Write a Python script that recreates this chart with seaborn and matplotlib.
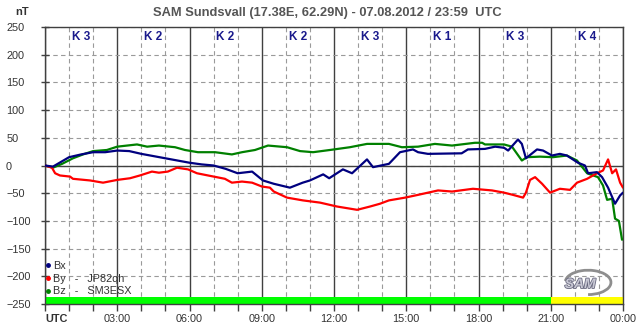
import numpy as np
import pandas as pd
import matplotlib
matplotlib.use("Agg")
import matplotlib.pyplot as plt
import matplotlib.patheffects as pe
from matplotlib.lines import Line2D
from matplotlib.patches import Arc
from matplotlib.ticker import MultipleLocator
import seaborn as sns

# hours UTC and field values in nT
bx_t = [0, 0.33, 1.0, 1.5, 2.0, 2.5, 3.0, 3.5, 4.0, 4.5, 5.0, 5.5, 6.0, 6.5, 7.0, 7.5,
        8.0, 8.6, 9.05, 9.5, 10.17, 10.7, 11.0, 11.55, 11.8, 12.37, 12.75, 13.37, 13.62,
        14.28, 14.74, 15.28, 15.49, 15.9, 17.3, 17.56, 18.27, 18.69, 19.06, 19.23, 19.64,
        19.8, 19.97, 20.43, 20.68, 21.05, 21.38, 21.67, 22.13, 22.42, 22.55, 22.92, 23.13,
        23.38, 23.67, 23.88, 24.0]
bx_v = [0, -2, 15, 20, 24, 24, 27, 26, 21, 17, 13, 9, 5, 2, 0, -6,
        -14, -11, -27, -33, -40, -31, -27, -16, -23, -7, -14, 11, -3,
        3, 24, 29, 24, 21, 22, 29, 30, 34, 32, 27, 47,
        39, 13, 29, 27, 18, 21, 18, 5, 0, -14, -12, -21,
        -40, -69, -54, -49]

by_t = [0, 0.29, 0.42, 0.62, 1.04, 1.16, 1.87, 2.41, 3.0, 3.53, 3.94, 4.44, 4.73, 5.1,
        5.48, 5.94, 6.31, 6.77, 7.47, 7.76, 8.18, 8.6, 9.01, 9.34, 9.5, 10.05, 10.71, 11.42,
        12.12, 12.96, 13.5, 13.91, 14.28, 14.95, 15.49, 16.32, 16.9, 17.77, 18.56, 19.06,
        19.43, 19.85, 19.97, 20.14, 20.35, 20.64, 20.97, 21.38, 21.8, 22.09, 22.51, 22.92,
        23.17, 23.38, 23.55, 23.71, 23.88, 24.0]
by_v = [0, -4, -14, -18, -20, -24, -27, -31, -26, -23, -18, -11, -13, -11,
        -4, -7, -14, -18, -24, -31, -29, -31, -38, -40, -47, -58, -63, -67,
        -74, -80, -74, -69, -63, -58, -53, -45, -47, -42, -45, -49,
        -53, -58, -49, -26, -21, -33, -49, -42, -44, -31, -24, -14,
        -9, 11, -14, -7, -31, -40]

bz_t = [0, 0.33, 0.71, 1.16, 1.58, 2.0, 2.57, 3.0, 3.82, 4.24, 4.73, 5.4, 5.81, 6.35,
        7.06, 7.76, 8.18, 8.72, 9.26, 10.05, 10.59, 11.13, 11.83, 12.66, 13.37, 14.28,
        14.82, 15.49, 16.19, 16.9, 17.85, 18.15, 18.27, 19.06, 19.39, 19.8, 20.01, 20.55,
        21.09, 21.67, 22.09, 22.51, 22.96, 23.17, 23.34, 23.55, 23.67, 23.83, 23.96]
bz_v = [0, -4, 3, 13, 20, 26, 28, 34, 38, 34, 36, 33, 28, 24,
        24, 20, 24, 28, 36, 33, 26, 24, 28, 33, 39, 39,
        33, 34, 39, 36, 41, 41, 38, 38, 34, 9, 15, 16,
        15, 18, 9, -14, -21, -36, -62, -60, -96, -100, -134]

k_index = [3, 2, 2, 2, 3, 1, 3, 4]
k_start = [0, 3, 6, 9, 12, 15, 18, 21]
hour_labels = ["UTC", "03:00", "06:00", "09:00", "12:00", "15:00", "18:00", "21:00", "00:00"]

c_bx, c_by, c_bz = "#00007f", "#ff0000", "#008000"
grey_txt = "#333333"
fs = 7.8

sns.set_style("white")
plt.rcParams["font.family"] = ["Liberation Sans", "DejaVu Sans"]

fig = plt.figure(figsize=(6.43, 3.31), dpi=100)
ax = fig.add_axes([45 / 643, 1 - 304 / 331, 578 / 643, 277 / 331])

# grid first
ax.set_xlim(0, 24)
ax.set_ylim(-250, 250)
ax.xaxis.set_major_locator(MultipleLocator(3))
ax.xaxis.set_minor_locator(MultipleLocator(1))
ax.yaxis.set_major_locator(MultipleLocator(50))
ax.grid(which="minor", axis="x", color="#9a9a9a", ls=(0, (4, 3)), lw=0.8)
ax.grid(which="major", axis="y", color="#9a9a9a", ls=(0, (4, 3)), lw=0.8)
ax.grid(which="major", axis="x", color="#404040", ls="-", lw=1.0)
ax.axhline(0, color="#404040", lw=1.0, zorder=1)
ax.set_axisbelow(True)

# activity bar at the bottom
bar_cols = ["#00ff00" if k < 4 else "#ffff00" for k in k_index]
ax.bar(k_start, 13, width=3, bottom=-250, align="edge", color=bar_cols,
       edgecolor="none", zorder=2)

df = pd.concat([
    pd.DataFrame({"t": bz_t, "v": bz_v, "c": "Bz"}),
    pd.DataFrame({"t": by_t, "v": by_v, "c": "By"}),
    pd.DataFrame({"t": bx_t, "v": bx_v, "c": "Bx"}),
])
sns.lineplot(data=df, x="t", y="v", hue="c", palette={"Bx": c_bx, "By": c_by, "Bz": c_bz},
             hue_order=["Bz", "By", "Bx"], lw=1.6, estimator=None, sort=False, ax=ax,
             legend=False, zorder=3)

# K index labels
for s, k in zip(k_start, k_index):
    ax.text(s + 1.5, 232, "K " + str(k), ha="center", va="center", fontsize=8.5,
            fontweight="bold", color="#1a1a8c")

ax.set_xlabel("")
ax.set_ylabel("")
ax.set_xticks(np.arange(0, 25, 3))
ax.set_xticklabels(hour_labels)
ax.tick_params(axis="x", which="both", bottom=True, length=5, width=1, color="#404040",
               labelsize=fs, labelcolor=grey_txt, pad=2)
ax.tick_params(axis="y", left=True, direction="inout", length=6, width=1, color="#404040",
               labelsize=fs, labelcolor=grey_txt, pad=25)
first = ax.get_xticklabels()[0]
first.set_fontweight("bold")
first.set_horizontalalignment("left")
for lab in ax.get_yticklabels():
    lab.set_horizontalalignment("left")
for sp in ax.spines.values():
    sp.set_color("#404040")
    sp.set_linewidth(1.0)

handles = [Line2D([], [], marker="o", ls="", color=c, markersize=2.5) for c in (c_bx, c_by, c_bz)]
leg = ax.legend(handles, ["Bx", "By   -   JP82qh", "Bz   -   SM3ESX"], loc="lower left",
                bbox_to_anchor=(-0.012, 0.0), frameon=False, fontsize=fs,
                handlelength=0.4, handletextpad=0.25, labelspacing=0.25, borderpad=0.2)
for t in leg.get_texts():
    t.set_color(grey_txt)

# station logo
ax.add_patch(Arc((22.55, -211), 1.9, 44, theta1=-90, theta2=110, color="#8e8e8e",
                 lw=2.0, zorder=2))
ax.text(22.22, -214, "SAM", fontsize=10, style="italic", fontweight="bold", color="#c8c8d4",
        ha="center", va="center", zorder=3,
        path_effects=[pe.withStroke(linewidth=1.2, foreground="#6a6a80")])

fig.text(0.509, 0.961, "SAM Sundsvall (17.38E, 62.29N) - 07.08.2012 / 23:59  UTC",
         ha="center", va="center", fontsize=9.3, fontweight="bold", color="#555555")
fig.text(15 / 643, 1 - 12 / 331, "nT", ha="left", va="center", fontsize=8,
         fontweight="bold", color=grey_txt)

fig.savefig("out.png", dpi=100, facecolor="white")
